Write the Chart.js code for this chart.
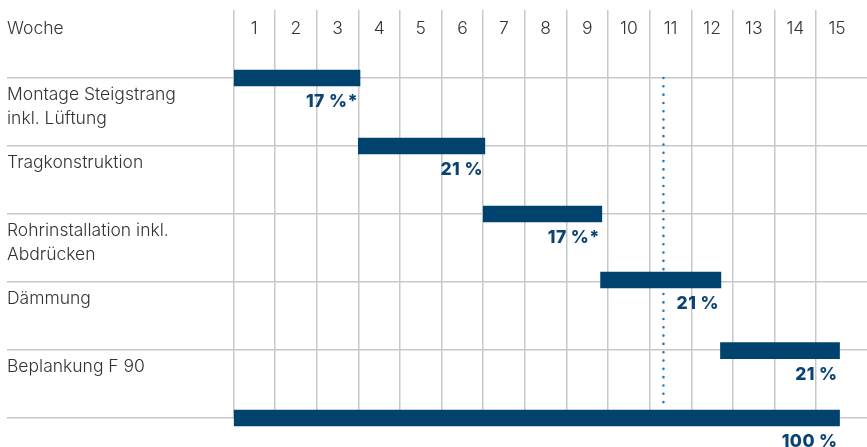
<!DOCTYPE html>
<html lang="de">
<head>
<meta charset="utf-8">
<title>Bauablauf Steigstrang</title>
<script src="https://cdn.jsdelivr.net/npm/chart.js@4/dist/chart.umd.min.js"></script>
<style>
  html, body { margin: 0; padding: 0; background: #ffffff; }
  #wrap { position: relative; width: 867px; height: 447px; }
</style>
</head>
<body>
<div id="wrap"><canvas id="gantt"></canvas></div>
<script>
// Bauablauf — Wochenplan als Balken (Gantt), Wochen 1–15

const headerLabel = 'Woche';
const weeks       = ['1','2','3','4','5','6','7','8','9','10','11','12','13','14','15'];

// Zeilenbeschriftung (mehrzeilig)
const tasks = [
  ['Montage Steigstrang', 'inkl. Lüftung'],
  ['Tragkonstruktion'],
  ['Rohrinstallation inkl.', 'Abdrücken'],
  ['Dämmung'],
  ['Beplankung F 90'],
];

// Balken: Beginn / Ende in Wochen, Zeilenposition (Trennlinie)
const barStart  = [0,    3,    6,    8.82, 11.7,  0];
const barEnd    = [3.04, 6.04, 8.85, 11.71, 14.56, 14.56];
const barRow    = [1,    2,    3,    3.97, 5.01, 6];
const barLabels = ['17 %*', '21 %', '17 %*', '21 %', '21 %', '100 %'];

// Stichtag (gepunktete Linie)
const todayWeek = 10.33;
const todayFrom = 1;
const todayTo   = 5.78;

const TEXT_FONT  = "'Inter', 'Liberation Sans', sans-serif";
const TEXT_COLOR = '#333333';
const BAR_COLOR  = '#00436f';
const PCT_COLOR  = '#0b4474';
const GRID_COLOR = '#c8c8c8';
const DOT_COLOR  = '#1f7cc4';

const textPlugin = {
  id: 'ganttText',
  afterDatasetsDraw(chart) {
    const { ctx, scales: { x, y } } = chart;
    ctx.save();

    // Kopfzeile
    ctx.font = `300 17.5px ${TEXT_FONT}`;
    ctx.fillStyle = TEXT_COLOR;
    ctx.textBaseline = 'alphabetic';
    ctx.textAlign = 'left';
    ctx.fillText(headerLabel, 7, 34);
    ctx.textAlign = 'center';
    weeks.forEach((w, i) => ctx.fillText(w, x.getPixelForValue(i + 0.5), 34));

    // Vorgänge
    ctx.textAlign = 'left';
    tasks.forEach((lines, i) => {
      const top = y.getPixelForValue(i + 1);
      lines.forEach((line, j) => ctx.fillText(line, 7, top + 22 + j * 24));
    });

    // Prozentwerte unter den Balken
    ctx.font = `800 17.5px ${TEXT_FONT}`;
    ctx.letterSpacing = '0.4px';
    ctx.fillStyle = PCT_COLOR;
    ctx.textAlign = 'right';
    barLabels.forEach((lbl, i) => {
      ctx.fillText(lbl, x.getPixelForValue(barEnd[i]) - 2, y.getPixelForValue(barRow[i]) + 29);
    });

    ctx.restore();
  },
};

const tickVal    = c => (c && c.tick ? c.tick.value : NaN);
const isWeekLine = v => Number.isInteger(v) && v >= 0 && v <= weeks.length;
const isRowLine  = v => Number.isInteger(v) && v >= 1;

new Chart(document.getElementById('gantt'), {
  type: 'bar',
  data: {
    datasets: [
      {
        type: 'bar',
        indexAxis: 'y',
        data: barStart.map((s, i) => ({ x: [s, barEnd[i]], y: barRow[i] })),
        backgroundColor: BAR_COLOR,
        borderWidth: 0,
        barThickness: 16,
        clip: false,
      },
      {
        type: 'line',
        indexAxis: 'x',
        data: [{ x: todayWeek, y: todayFrom }, { x: todayWeek, y: todayTo }],
        borderColor: DOT_COLOR,
        borderWidth: 2.6,
        borderDash: [0.01, 8.3],
        borderCapStyle: 'round',
        pointRadius: 0,
        fill: false,
      },
    ],
  },
  options: {
    indexAxis: 'y',
    responsive: true,
    maintainAspectRatio: false,
    animation: false,
    events: [],
    layout: { padding: { left: 7, right: 0, top: 10, bottom: 29 } },
    plugins: {
      legend:  { display: false },
      tooltip: { enabled: false },
    },
    scales: {
      x: {
        type: 'linear',
        min: -5.44,
        max: 15.22,
        offset: false,
        ticks: { display: false, stepSize: 1 },
        border: { display: false },
        grid: {
          offset: false,
          drawTicks: false,
          lineWidth: 1.5,
          color: c => isWeekLine(tickVal(c)) ? GRID_COLOR : 'rgba(0,0,0,0)',
        },
        afterFit: s => { s.height = 0; },
      },
      y: {
        type: 'linear',
        reverse: true,
        min: 0,
        max: 6,
        offset: false,
        ticks: { display: false, stepSize: 1 },
        border: { display: false },
        grid: {
          offset: false,
          drawTicks: false,
          lineWidth: 1.5,
          color: c => isRowLine(tickVal(c)) ? GRID_COLOR : 'rgba(0,0,0,0)',
        },
        afterFit: s => { s.width = 0; },
      },
    },
  },
  plugins: [textPlugin],
});
</script>
</body>
</html>
